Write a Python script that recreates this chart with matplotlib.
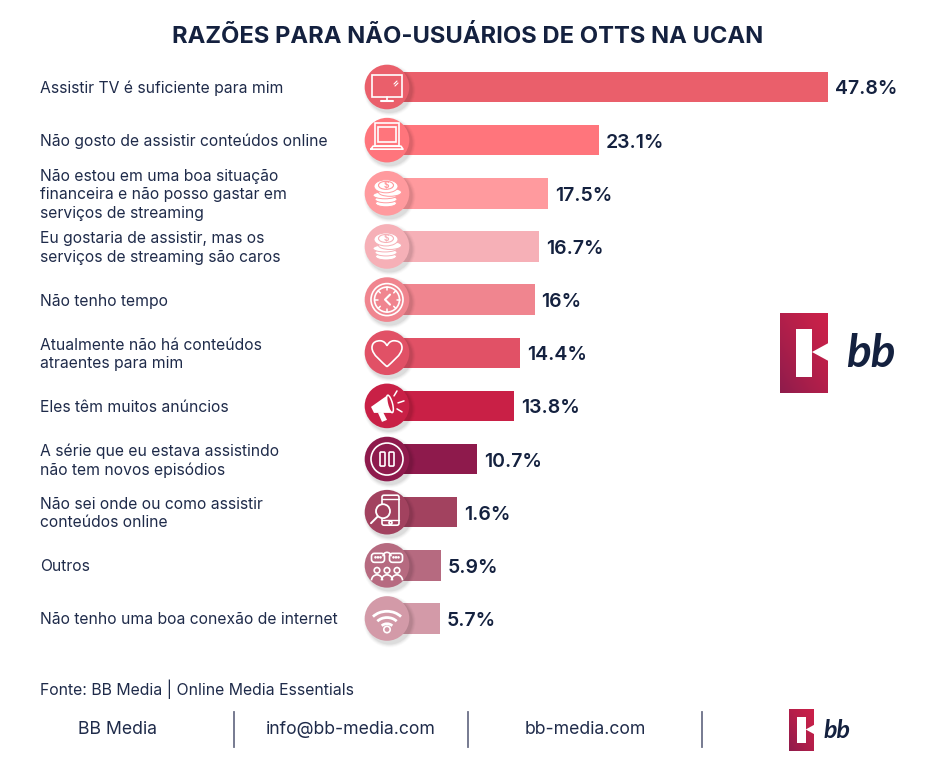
#!/usr/bin/env python
import matplotlib
matplotlib.use('Agg')

import numpy as np
from matplotlib import pyplot as plt
from matplotlib.patches import Circle, Rectangle, Ellipse, Arc, Polygon, FancyBboxPatch, PathPatch
from matplotlib.path import Path

FONT = 'Inter'
NAVY = '#14213F'
TEXT = '#1F2B4A'

title = 'RAZÕES PARA NÃO-USUÁRIOS DE OTTS NA UCAN'
categories = [
    'Assistir TV é suficiente para mim',
    'Não gosto de assistir conteúdos online',
    'Não estou em uma boa situação\nfinanceira e não posso gastar em\nserviços de streaming',
    'Eu gostaria de assistir, mas os\nserviços de streaming são caros',
    'Não tenho tempo',
    'Atualmente não há conteúdos\natraentes para mim',
    'Eles têm muitos anúncios',
    'A série que eu estava assistindo\nnão tem novos episódios',
    'Não sei onde ou como assistir\nconteúdos online',
    'Outros',
    'Não tenho uma boa conexão de internet',
]
# Printed labels and drawn lengths disagree on two rows in the original (10.7% and 1.6%)
value_labels = ['47.8%', '23.1%', '17.5%', '16.7%', '16%', '14.4%', '13.8%', '10.7%', '1.6%', '5.9%', '5.7%']
bar_lengths = [47.8, 23.0, 17.5, 16.5, 16.0, 14.4, 13.8, 9.8, 7.6, 5.8, 5.7]
colors = ['#EA5F6B', '#FF757C', '#FF9A9E', '#F6B0B7', '#F0858F', '#E15166',
          '#C92046', '#8E1A4C', '#A2425F', '#B66A80', '#D39AA8']
icons = ['tv', 'laptop', 'coins', 'coins', 'clock', 'heart', 'horn', 'pause', 'phone', 'people', 'wifi']
footer = ['BB Media', 'info@bb-media.com', 'bb-media.com']

W, H = 936, 778
fig = plt.figure(figsize=(W / 100, H / 100), dpi=100)

# Bars: value 0 sits at pixel 387, 47.8 at pixel 828; rows are 53.15 px apart from y=87
bar_ax = fig.add_axes([0, 0, 1, 1])
k = (828 - 387) / 47.8
bar_ax.set_xlim(-387 / k, (W - 387) / k)
bar_ax.set_ylim((H - 87) / 53.15, -87 / 53.15)
bar_ax.axis('off')

# Everything decorative is placed in pixels, y pointing down
px = fig.add_axes([0, 0, 1, 1], zorder=3)
px.set_xlim(0, W)
px.set_ylim(H, 0)
px.axis('off')
px.patch.set_alpha(0)

rows = np.arange(len(categories))
bar_ax.barh(rows, bar_lengths, height=30.5 / 53.15, color=colors, edgecolor='none')

for i, (v, lab) in enumerate(zip(bar_lengths, value_labels)):
    bar_ax.annotate(lab, (v, i), xytext=(5, -1.8), textcoords='offset points', va='center', ha='left',
                    fontsize=14, fontweight='semibold', color=NAVY, family=FONT)
    bar_ax.annotate(categories[i], (0, i), xytext=(40 - 387, -1.5), textcoords='offset pixels', va='center',
                    ha='left', fontsize=11.3, color=TEXT, family=FONT, linespacing=1.27)


def line(xs, ys, lw=1.2, c='white'):
    px.plot(xs, ys, color=c, lw=lw, solid_capstyle='round', solid_joinstyle='round', zorder=6)


def outline(patch):
    patch.set(edgecolor='white', facecolor='none', lw=1.2, zorder=6)
    px.add_patch(patch)


def draw_tv(x, y, col):
    outline(Rectangle((x - 15, y - 12), 30, 22))
    line([x, x], [y + 10, y + 13])
    line([x - 6, x + 6], [y + 14, y + 14], 1.5)
    line([x + 7, x + 10], [y - 3, y - 6], 0.8)
    line([x + 8, x + 11], [y - 1, y - 4], 0.8)


def draw_laptop(x, y, col):
    outline(Rectangle((x - 12, y - 17), 24, 23))
    outline(Rectangle((x - 9, y - 13), 18, 15))
    line([x - 16, x + 16, x + 14, x - 14, x - 16], [y + 9, y + 9, y + 6, y + 6, y + 9])


def draw_coins(x, y, col):
    for dx, dy, w, h in [(-1, 10, 21, 7), (-1, 6, 22, 7), (-2, 2, 24, 7), (3, -1, 23, 8), (-1, -7, 24, 13)]:
        px.add_patch(Ellipse((x + dx, y + dy), w, h, facecolor='white', edgecolor=col, lw=0.7, zorder=6))
    px.add_patch(Ellipse((x - 1, y - 8), 15, 8, facecolor='none', edgecolor=col, lw=0.8, zorder=6))
    px.text(x - 1, y - 8, '$', fontsize=6, ha='center', va='center', color=col, fontweight='bold',
            family=FONT, zorder=7)


def draw_clock(x, y, col):
    outline(Circle((x, y), 16))
    outline(Circle((x, y), 12.5))
    for a in np.arange(0, 360, 45):
        c, s = np.cos(np.radians(a)), np.sin(np.radians(a))
        line([x + 9.5 * c, x + 12.5 * c], [y + 9.5 * s, y + 12.5 * s], 1.1)
    line([x + 3, x - 2, x + 3], [y - 5, y, y + 5], 1.5)


def draw_heart(x, y, col):
    verts = [(x, y + 14), (x - 5, y + 9), (x - 15, y + 2), (x - 15, y - 5), (x - 15, y - 11), (x - 10, y - 12),
             (x - 7, y - 12), (x - 3, y - 12), (x - 1, y - 9), (x, y - 7), (x + 1, y - 9), (x + 3, y - 12),
             (x + 7, y - 12), (x + 10, y - 12), (x + 15, y - 11), (x + 15, y - 5), (x + 15, y + 2), (x + 5, y + 9),
             (x, y + 14)]
    codes = [Path.MOVETO] + [Path.CURVE4] * 18
    outline(PathPatch(Path(verts, codes)))


def draw_horn(x, y, col):
    px.add_patch(Polygon([(x - 16, y + 1), (x + 1, y - 11), (x + 5, y + 7), (x - 13, y + 7)],
                         facecolor='white', edgecolor='none', zorder=6))
    px.add_patch(Polygon([(x - 9, y + 7), (x - 4, y + 6), (x, y + 14), (x - 5, y + 16)],
                         facecolor='white', edgecolor='none', zorder=6))
    px.add_patch(Ellipse((x + 3, y - 2), 5, 18, angle=-15, facecolor=col, edgecolor='white', lw=1.1, zorder=7))
    line([x + 7, x + 10], [y - 10, y - 15], 1.1)
    line([x + 11, x + 17], [y - 3, y - 5], 1.1)
    line([x + 10, x + 15], [y + 3, y + 6], 1.1)


def draw_pause(x, y, col):
    outline(Circle((x, y), 16))
    for dx in (-7, 2):
        outline(FancyBboxPatch((x + dx, y - 7), 5, 14, boxstyle='round,pad=0,rounding_size=1'))


def draw_phone(x, y, col):
    outline(FancyBboxPatch((x - 5, y - 17), 17, 30, boxstyle='round,pad=0,rounding_size=2'))
    line([x - 5, x + 12], [y - 13, y - 13], 1)
    line([x - 5, x + 12], [y + 8, y + 8], 1)
    outline(Circle((x + 3.5, y + 10.5), 1.5))
    px.add_patch(Circle((x - 4, y - 1), 7, facecolor=col, edgecolor='white', lw=1.3, zorder=7))
    line([x - 9, x - 16], [y + 4, y + 11], 1.4)


def draw_people(x, y, col):
    for dx in (-9, 9):
        outline(FancyBboxPatch((x + dx - 6.5, y - 12), 13, 9, boxstyle='round,pad=0,rounding_size=3'))
        for d in (-2.5, 0, 2.5):
            px.add_patch(Circle((x + dx + d, y - 8), 0.6, color='white', zorder=6))
    outline(Arc((x, y - 9), 8, 8, theta1=180, theta2=360))
    for dx in (-10, 0, 10):
        outline(Circle((x + dx, y + 5), 2.8))
        outline(Arc((x + dx, y + 15), 11, 11, theta1=180, theta2=360))


def draw_wifi(x, y, col):
    for d in (32, 22, 12):
        px.add_patch(Arc((x, y + 8 + (32 - d) * 0.15), d * 1.15, d * 0.95, theta1=215, theta2=325,
                         edgecolor='white', lw=2.0, zorder=6))
    outline(Circle((x, y + 11), 3.2))


draw = {'tv': draw_tv, 'laptop': draw_laptop, 'coins': draw_coins, 'clock': draw_clock, 'heart': draw_heart,
        'horn': draw_horn, 'pause': draw_pause, 'phone': draw_phone, 'people': draw_people, 'wifi': draw_wifi}

for i, (col, icon) in enumerate(zip(colors, icons)):
    cy = 87 + 53.15 * i
    # soft shadow, offset down and to the right
    for r, a in [(26, 0.02), (25, 0.03), (24, 0.04), (23, 0.05)]:
        px.add_patch(Circle((389.5, cy + 3), r, facecolor='black', alpha=a, edgecolor='none', zorder=4))
    px.add_patch(Circle((387, cy), 22.3, facecolor=col, edgecolor='none', zorder=5))
    draw[icon](387, cy, col)

px.text(468, 36, title, ha='center', va='center', fontsize=17.1, fontweight='bold', color=NAVY, family=FONT)


def draw_logo(x0, y0, w, h, bb_x, bb_y, bb_size):
    grad = np.linspace(0, 1, 64)
    gx, gy = np.meshgrid(grad, grad)
    c0 = np.array([0xCB, 0x21, 0x49]) / 255
    c1 = np.array([0x8E, 0x1C, 0x4C]) / 255
    t = ((1 - gx) + gy) / 2
    img = c0[None, None, :] + (c1 - c0)[None, None, :] * t[:, :, None] ** 1.3
    px.imshow(img, extent=(x0, x0 + w, y0 + h, y0), aspect='auto', zorder=2)
    sx, sy = w / 48, h / 80
    px.add_patch(Rectangle((x0 + 16 * sx, y0 + 16 * sy), 16 * sx, 48 * sy, facecolor='white', edgecolor='none', zorder=3))
    px.add_patch(Polygon([(x0 + 32 * sx, y0 + 39 * sy), (x0 + 48.5 * sx, y0 + 30 * sy), (x0 + 48.5 * sx, y0 + 48 * sy)],
                         facecolor='white', edgecolor='none', zorder=3))
    px.text(bb_x, bb_y, 'bb', fontsize=bb_size, fontweight='bold', style='italic', color=NAVY,
            family='Lato', ha='left', va='center')


draw_logo(780, 313, 48, 80, 846, 354, 33)
draw_logo(789, 709, 25, 42, 823, 731, 18)
px.set_xlim(0, W)
px.set_ylim(H, 0)

px.text(40, 689, 'Fonte: BB Media | Online Media Essentials', fontsize=11.4, color=TEXT, family=FONT,
        ha='left', va='center')
for name, x in zip(footer, [117, 351, 585]):
    px.text(x, 730, name, fontsize=12.7, color=TEXT, family=FONT, ha='center', va='center')
for x in [234, 468, 702]:
    px.plot([x, x], [712, 747], color='#6B7088', lw=1.3)

fig.savefig('out.png', dpi=100, facecolor='white')
